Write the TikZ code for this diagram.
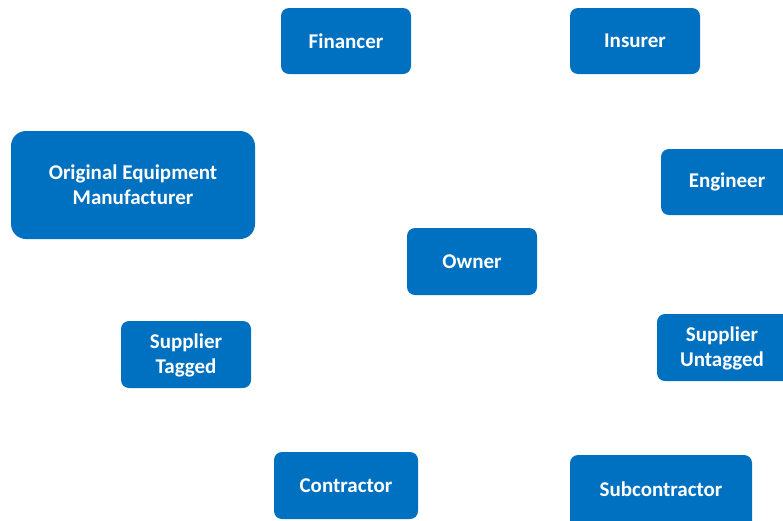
\documentclass[tikz,border=0pt]{standalone}
\usepackage{fontspec}
\setmainfont{Carlito}
\definecolor{boxblue}{RGB}{0,112,192}
\begin{document}
\begin{tikzpicture}[x=1pt,y=-1pt,
  lbl/.style={text=white,font=\bfseries\fontsize{21}{25}\selectfont,align=center},
  box/.style={fill=boxblue,rounded corners=8pt},
  bigbox/.style={box,rounded corners=15pt}]
\useasboundingbox (0,0) rectangle (783,520);
\clip (0,0) rectangle (783,520);
\path[box] (281,8) rectangle (411,74);
\node[lbl] (fin) at (346,41) {Financer};
\path[box] (570,8) rectangle (700,74);
\node[lbl] (ins) at (635,41) {Insurer};
\path[bigbox] (11,131) rectangle (255,239);
\node[lbl] (oem) at (133,185) {Original Equipment\\Manufacturer};
\path[box] (661,149) rectangle (800,215);
\node[lbl] (eng) at (727,182) {Engineer};
\path[box] (407,228) rectangle (537,295);
\node[lbl] (own) at (472,262) {Owner};
\path[box] (121,321) rectangle (251,388);
\node[lbl] (st) at (186,355) {Supplier\\Tagged};
\path[box] (657,314) rectangle (800,381);
\node[lbl] (su) at (722,348) {Supplier\\Untagged};
\path[box] (274,452) rectangle (418,519);
\node[lbl] (con) at (346,486) {Contractor};
\path[box] (570,455) rectangle (752,530);
\node[lbl] (sub) at (661,489) {Subcontractor};
\end{tikzpicture}
\end{document}
